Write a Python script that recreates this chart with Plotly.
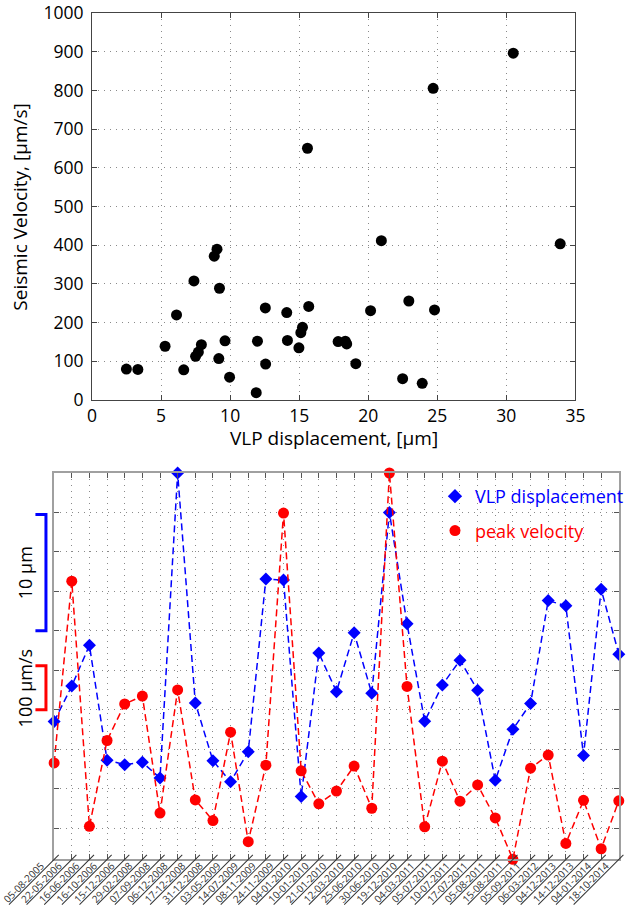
import plotly.graph_objects as go

# ---------------- data ----------------
dates = ["05-08-2005", "22-05-2006", "16-06-2006", "16-10-2006", "15-12-2006",
         "29-02-2008", "07-09-2008", "06-12-2008", "17-12-2008", "31-12-2008",
         "03-05-2009", "14-07-2009", "08-11-2009", "24-11-2009", "04-01-2010",
         "10-01-2010", "21-01-2010", "12-03-2010", "25-06-2010", "30-06-2010",
         "19-12-2010", "04-03-2011", "05-07-2011", "10-07-2011", "17-07-2011",
         "05-08-2011", "15-08-2011", "05-09-2011", "06-03-2012", "04-12-2013",
         "14-12-2013", "04-01-2014", "18-10-2014"]

vlp_um = [12.55, 15.6, 19.1, 9.23, 8.85, 9.05, 7.7, 33.9, 14.15, 9.18,
          7.38, 9.96, 24.8, 24.7, 6.12, 18.44, 15.12, 20.17, 14.98, 30.5,
          20.95, 12.57, 15.69, 17.82, 15.24, 7.5, 11.89, 14.1, 22.94, 22.49,
          9.63, 23.91, 18.34]

peak_vel = [238, 651, 94, 289, 372, 390, 124, 404, 154, 107,
            308, 59, 233, 806, 220, 145, 174, 231, 135, 897,
            412, 93, 242, 151, 188, 113, 19, 226, 256, 55,
            153, 43, 152]

# events shown only in the scatter plot
extra_vlp = [2.49, 3.32, 5.29, 6.64, 7.92, 11.98]
extra_vel = [80, 79, 139, 78, 143, 152]

# scale-bar sizes
bar_um = 10
bar_vel = 100

# ---------------- figure ----------------
W, H = 629, 909
FONT = "Open Sans"

vmax = max(vlp_um)
pmax = max(peak_vel)
vlp_n = [v / vmax for v in vlp_um]
vel_n = [v / pmax for v in peak_vel]
ymin_n = min(min(vlp_n), min(vel_n))

fig = go.Figure()

# top scatter
fig.add_trace(go.Scatter(
    x=vlp_um + extra_vlp, y=peak_vel + extra_vel, mode="markers",
    marker=dict(symbol="circle", size=11, color="black"),
    xaxis="x", yaxis="y", showlegend=False, cliponaxis=False))

# bottom time series
fig.add_trace(go.Scatter(
    x=dates, y=vlp_n, mode="lines+markers",
    line=dict(color="#0000ff", width=1.5, dash="7px,4px"),
    marker=dict(symbol="diamond", size=10, color="#0000ff"),
    xaxis="x2", yaxis="y2", showlegend=False, cliponaxis=False))
fig.add_trace(go.Scatter(
    x=dates, y=vel_n, mode="lines+markers",
    line=dict(color="#ff0000", width=1.5, dash="7px,4px"),
    marker=dict(symbol="circle", size=11, color="#ff0000"),
    xaxis="x2", yaxis="y2", showlegend=False, cliponaxis=False))

# legend entries (markers only)
fig.add_trace(go.Scatter(
    x=[None], y=[None], mode="markers",
    marker=dict(symbol="diamond", size=11, color="#0000ff"),
    name='<span style="color:#0000ff">VLP displacement</span>',
    xaxis="x2", yaxis="y2", legendgroup="a"))
fig.add_trace(go.Scatter(
    x=[None], y=[None], mode="markers",
    marker=dict(symbol="circle", size=11, color="#ff0000"),
    name='<span style="color:#ff0000">peak velocity</span>',
    xaxis="x2", yaxis="y2", legendgroup="b"))


def px_x(p):
    return p / W


def px_y(p):
    return 1 - p / H


grid = dict(showgrid=True, gridcolor="#8a8a8a", griddash="1px,5px",
            gridwidth=1, zeroline=False, automargin=False)

# date labels: underlined and pushed down-left along their 45° baseline
NB = "\u00a0"
date_text = [f"<u>{d}{NB * 7}</u>" for d in dates]

fig.update_layout(
    width=W, height=H, margin=dict(l=0, r=0, t=0, b=0),
    paper_bgcolor="white", plot_bgcolor="white",
    font=dict(family=FONT, color="black"),
    xaxis=dict(domain=[px_x(93.5), px_x(584.7)], anchor="y", range=[0, 35],
               dtick=5, tick0=0, ticks="inside", ticklen=5, tickcolor="#444",
               showline=True, linecolor="#444", linewidth=1, mirror="ticks",
               tickfont=dict(size=17.5, family=FONT), **grid),
    yaxis=dict(domain=[px_y(400), px_y(13.3)], anchor="x", range=[0, 1000],
               dtick=100, tick0=0, ticks="inside", ticklen=5, tickcolor="#444",
               showline=True, linecolor="#444", linewidth=1, mirror="ticks",
               ticklabelstandoff=4,
               tickfont=dict(size=17.5, family=FONT), **grid),
    xaxis2=dict(domain=[px_x(55), px_x(628.8)], anchor="y2", type="category",
                categoryorder="array", categoryarray=dates,
                tickmode="array", tickvals=dates, ticktext=date_text,
                range=[0, len(dates) - 1], ticks="inside", ticklen=5,
                tickcolor="#555", showline=True, linecolor="#a0a0a0",
                linewidth=2, mirror="ticks", tickangle=-45,
                ticklabelstandoff=-18,
                tickfont=dict(size=10, family=FONT, color="#333"), **grid),
    yaxis2=dict(domain=[px_y(859.3), px_y(473)], anchor="x2",
                range=[ymin_n, 1], dtick=0.1, tick0=0, ticks="inside",
                ticklen=5, tickcolor="#555", showline=True,
                linecolor="#a0a0a0", linewidth=2, mirror="ticks",
                showticklabels=False, **grid),
    legend=dict(x=px_x(442), y=px_y(478), xanchor="left", yanchor="top",
                bgcolor="rgba(0,0,0,0)", font=dict(size=18, family=FONT),
                itemwidth=30, tracegroupgap=8, traceorder="grouped"),
)

# axis titles of the top plot
fig.add_annotation(text="Seismic Velocity, [µm/s]", textangle=-90,
                   x=px_x(20), y=px_y(207), xref="paper", yref="paper",
                   xanchor="center", yanchor="middle",
                   showarrow=False, font=dict(size=19, family=FONT))
fig.add_annotation(text="VLP displacement, [µm]",
                   x=px_x(339), y=px_y(438), xref="paper", yref="paper",
                   xanchor="center", yanchor="middle",
                   showarrow=False, font=dict(size=19, family=FONT))

# scale bars (bottom plot)
bar_specs = [(0.6, bar_um / vmax, "#0000ff", f"{bar_um} µm"),
             (0.4, bar_vel / pmax, "#ff0000", f"{bar_vel} µm/s")]
xb, xe = px_x(46.7), px_x(36)
for base, length, col, label in bar_specs:
    top = base + length
    fig.add_shape(type="path", xref="paper", yref="y2",
                  path=f"M {xe},{base} L {xb},{base} L {xb},{top} L {xe},{top}",
                  line=dict(color=col, width=3))
    fig.add_annotation(text=label, textangle=-90, x=px_x(25),
                       y=(base + top) / 2, xref="paper", yref="y2",
                       xanchor="center", yanchor="middle",
                       showarrow=False, font=dict(size=18, family=FONT))

fig.write_html("out.html")
